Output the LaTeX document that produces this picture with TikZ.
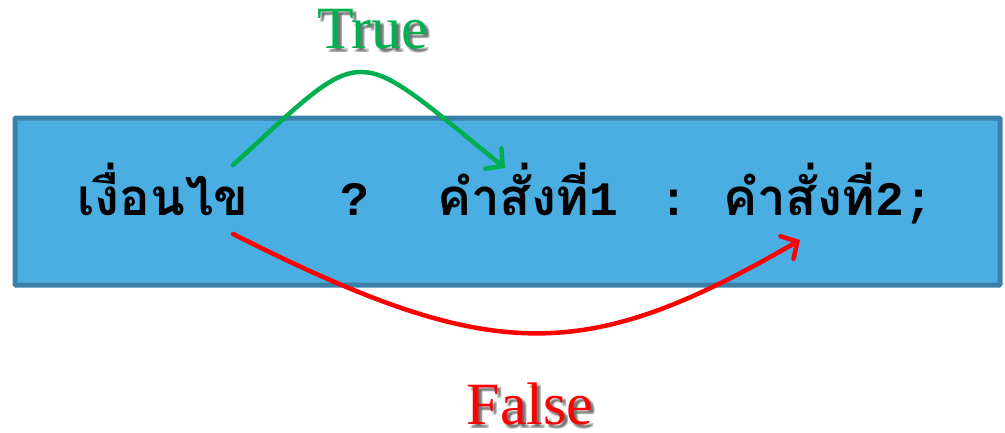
\documentclass[tikz,border=0pt]{standalone}
\usepackage{fontspec}
\usetikzlibrary{arrows.meta}
\setmainfont{Liberation Serif}
\setmonofont{Liberation Mono}
\newfontfamily\thaifont[Script=Thai]{Loma}
\newcommand{\mono}[1]{{\ttfamily\bfseries\fontsize{48}{48}\selectfont #1}}
\definecolor{boxfill}{RGB}{75,174,226}
\definecolor{boxedge}{RGB}{58,128,168}
\definecolor{truegreen}{RGB}{0,176,80}
\definecolor{falsered}{RGB}{255,0,0}
\begin{document}
\begin{tikzpicture}[x=1pt,y=-1pt,
  code/.style={font=\thaifont\bfseries\fontsize{51}{51}\selectfont, inner sep=0pt, anchor=base west},
  label/.style={font=\fontsize{60}{60}\selectfont, inner sep=0pt, anchor=base},
  shadowtext/.style={label, text=black, opacity=0.18},
  flow/.style={line width=4.5pt, line cap=round, -{Straight Barb[length=12pt,width=26pt,line width=4.5pt,line cap=round]}}]
  \useasboundingbox (0,0) rectangle (1005,432);
  % statement box
  \node[draw=boxedge, fill=boxfill, line width=5pt, rounded corners=1pt,
        minimum width=985pt, minimum height=167pt, inner sep=0pt] (box) at (507.5,201.5) {};
  % code text
  \node[code] (cond) at (77,215) {เงื่อนไข};
  \node[code, anchor=base] (q) at (355,215) {\mono{?}};
  \node[code] (st1) at (437,215) {คำสั่งที่\mono{1}};
  \node[code, anchor=base] (colon) at (674,215) {\mono{:}};
  \node[code] (st2) at (723,215) {คำสั่งที่\mono{2;}};
  % branch labels with soft shadow
  \foreach \dx/\dy in {3/3,4/4,2/4,4/2} {
    \node[shadowtext] at (373+\dx,48+\dy) {True};
    \node[shadowtext] at (530+\dx,424+\dy) {False};
  }
  \node[label, text=truegreen] (tlabel) at (373,48) {True};
  \node[label, text=falsered] (flabel) at (530,424) {False};
  % arrow end points
  \coordinate (tstart) at (233,165);
  \coordinate (tend) at (505,168);
  \coordinate (fstart) at (233,234);
  \coordinate (fend) at (800,240);
  \draw[flow, draw=truegreen] (tstart) .. controls (370,40) and (349,42) .. (tend);
  \draw[flow, draw=falsered] (fstart) .. controls (493,365) and (584,365) .. (fend);
\end{tikzpicture}
\end{document}
